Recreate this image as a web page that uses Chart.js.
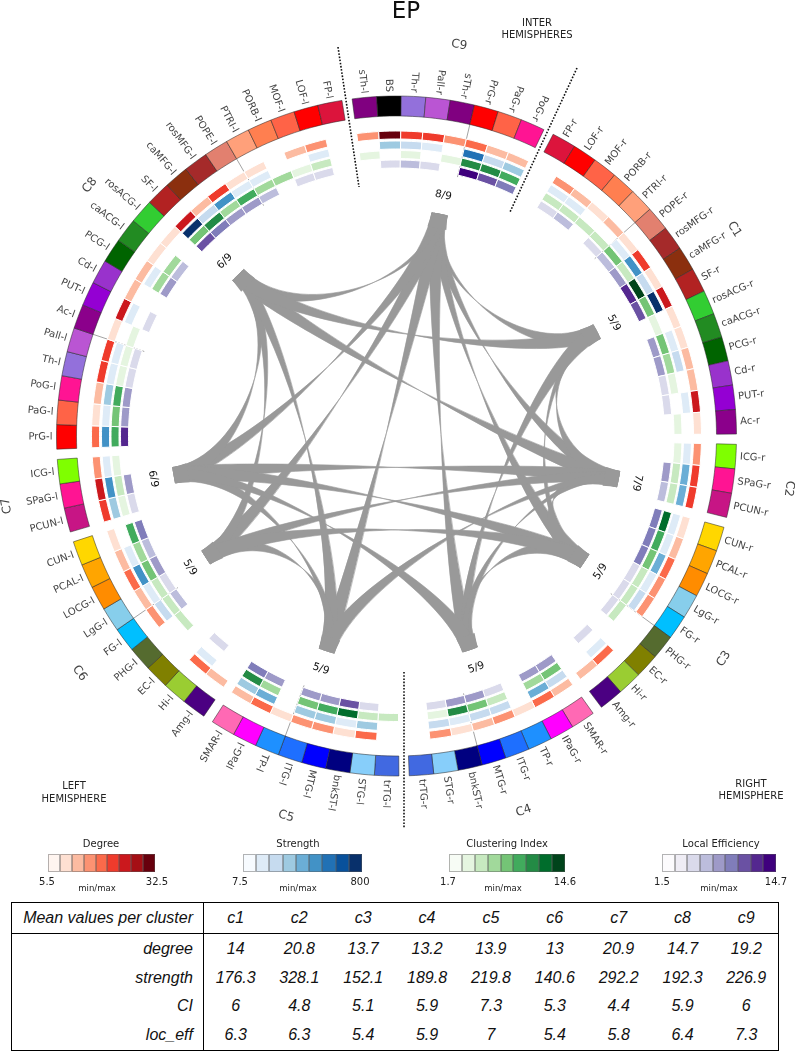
<!DOCTYPE html>
<html>
<head>
<meta charset="utf-8">
<title>EP</title>
<script src="https://cdn.jsdelivr.net/npm/chart.js@4"></script>
<style>
  body { margin: 0; background: #fff; width: 795px; height: 1052px; overflow: hidden; position: relative; font-family: "DejaVu Sans", sans-serif; color: #222; }
  canvas { position: absolute; left: -2px; top: 0; }
  .txt { position: absolute; transform: translate(-50%, -50%); white-space: nowrap; font-size: 10px; line-height: 12px; }
  .bar { position: absolute; display: flex; height: 18px; }
  .bar div { flex: 1; border: 0.5px solid rgba(90,90,90,0.45); box-sizing: border-box; }
  table { position: absolute; left: 11px; top: 902px; width: 768px; height: 149px; border-collapse: collapse; border: 1.5px solid #000; table-layout: fixed; font-family: "Liberation Sans", sans-serif; font-style: italic; font-size: 16px; color: #111; }
  th, td { font-weight: normal; text-align: center; padding: 0; }
  tr.head th { border-bottom: 1.5px solid #000; height: 30px; }
  th:first-child, td:first-child { width: 192px; text-align: right; padding-right: 10px; box-sizing: border-box; border-right: 1.5px solid #000; }
</style>
</head>
<body>
<canvas id="chart" width="797" height="872"></canvas>
<div id="extras"></div>
<script>
// clusters in drawing order, clockwise from the top
const clusterNames = ['C9', 'C1', 'C2', 'C3', 'C4', 'C5', 'C6', 'C7', 'C8'];
const hubAngles = [11, 62.5, 101, 123.6, 161, 198, 237.5, 260, 315.5];
const hubLabels = ['8/9', '5/9', '7/9', '5/9', '5/9', '5/9', '5/9', '6/9', '6/9'];

const nodeNames = [
  ['sTh-l', 'BS', 'Th-r', 'Pall-r', 'sTh-r', 'PrG-r', 'PaG-r', 'PoG-r'],
  ['FP-r', 'LOF-r', 'MOF-r', 'PORB-r', 'PTRI-r', 'POPE-r', 'rosMFG-r', 'caMFG-r', 'SF-r', 'rosACG-r', 'caACG-r', 'PCG-r', 'Cd-r', 'PUT-r', 'Ac-r'],
  ['ICG-r', 'SPaG-r', 'PCUN-r'],
  ['CUN-r', 'PCAL-r', 'LOCG-r', 'LgG-r', 'FG-r', 'PHG-r', 'EC-r', 'Hi-r', 'Amg-r'],
  ['SMAR-r', 'IPaG-r', 'TP-r', 'ITG-r', 'MTG-r', 'bnkST-r', 'STG-r', 'trTG-r'],
  ['trTG-l', 'STG-l', 'bnkST-l', 'MTG-l', 'ITG-l', 'TP-l', 'IPaG-l', 'SMAR-l'],
  ['Amg-l', 'Hi-l', 'EC-l', 'PHG-l', 'FG-l', 'LgG-l', 'LOCG-l', 'PCAL-l', 'CUN-l'],
  ['PCUN-l', 'SPaG-l', 'ICG-l'],
  ['PrG-l', 'PaG-l', 'PoG-l', 'Th-l', 'Pall-l', 'Ac-l', 'PUT-l', 'Cd-l', 'PCG-l', 'caACG-l', 'rosACG-l', 'SF-l', 'caMFG-l', 'rosMFG-l', 'POPE-l', 'PTRI-l', 'PORB-l', 'MOF-l', 'LOF-l', 'FP-l']
];

const nodeColors = [
  ['#800080', '#000000', '#9370db', '#ba55d3', '#800080', '#ff0000', '#ff6347', '#ff1493'],
  ['#dc143c', '#ff0000', '#ff6347', '#ff7f50', '#ffa07a', '#e2806f', '#a52a2a', '#8b2f0e', '#b22222', '#32cd32', '#228b22', '#006400', '#9932cc', '#9400d3', '#8b008b'],
  ['#7fff00', '#ff1493', '#c71585'],
  ['#ffd700', '#ffa500', '#ff8c00', '#87ceeb', '#00bfff', '#556b2f', '#808000', '#9acd32', '#4b0082'],
  ['#ff69b4', '#ff00ff', '#1e90ff', '#1e6fff', '#0000ff', '#000080', '#87cefa', '#4169e1'],
  ['#4169e1', '#87cefa', '#000080', '#0000ff', '#1e6fff', '#1e90ff', '#ff00ff', '#ff69b4'],
  ['#4b0082', '#9acd32', '#808000', '#556b2f', '#00bfff', '#87ceeb', '#ff8c00', '#ffa500', '#ffd700'],
  ['#c71585', '#ff1493', '#7fff00'],
  ['#ff0000', '#ff6347', '#ff1493', '#9370db', '#ba55d3', '#8b008b', '#9400d3', '#9932cc', '#006400', '#228b22', '#32cd32', '#b22222', '#8b2f0e', '#a52a2a', '#e2806f', '#ffa07a', '#ff7f50', '#ff6347', '#ff0000', '#dc143c']
];

// colour class per node, 0 means nothing drawn
const degreeLevels = [
  [3, 8, 5, 5, 3, 4, 2, 2],
  [0, 3, 2, 1, 2, 1, 5, 1, 6, 1, 1, 2, 2, 6, 1],
  [3, 5, 5],
  [1, 2, 4, 3, 3, 0, 0, 4, 2],
  [2, 4, 1, 3, 2, 1, 3, 0],
  [0, 4, 1, 3, 3, 1, 4, 2],
  [2, 4, 0, 0, 3, 2, 4, 2, 1],
  [5, 6, 3],
  [4, 1, 2, 5, 5, 1, 6, 2, 2, 1, 1, 6, 2, 5, 1, 1, 0, 2, 3, 0]
];
const strengthLevels = [
  [0, 3, 2, 1, 0, 6, 2, 3],
  [0, 1, 1, 0, 0, 1, 5, 2, 8, 0, 1, 2, 0, 1, 0],
  [1, 4, 4],
  [1, 1, 4, 1, 2, 0, 0, 1, 0],
  [2, 4, 0, 2, 2, 1, 2, 0],
  [0, 3, 1, 3, 3, 0, 4, 3],
  [0, 1, 0, 0, 2, 1, 5, 1, 0],
  [3, 5, 1],
  [5, 1, 3, 1, 1, 0, 1, 0, 1, 0, 0, 8, 2, 5, 1, 1, 0, 0, 1, 0]
];
const clusteringLevels = [
  [1, 0, 1, 0, 1, 6, 6, 5],
  [0, 2, 2, 2, 2, 4, 2, 8, 4, 1, 4, 3, 1, 0, 1],
  [1, 2, 2],
  [7, 5, 4, 2, 2, 2, 0, 0, 0],
  [4, 3, 0, 2, 4, 6, 1, 0],
  [2, 2, 7, 5, 4, 0, 3, 6],
  [0, 0, 0, 2, 2, 2, 4, 3, 5],
  [1, 2, 1],
  [5, 4, 5, 1, 1, 1, 0, 0, 3, 3, 0, 4, 6, 3, 5, 3, 3, 1, 2, 0]
];
const efficiencyLevels = [
  [0, 2, 3, 2, 0, 8, 6, 5],
  [0, 2, 3, 0, 2, 3, 4, 7, 6, 0, 4, 4, 2, 2, 0],
  [0, 4, 3],
  [5, 5, 5, 2, 2, 2, 0, 2, 0],
  [4, 4, 0, 2, 4, 4, 2, 0],
  [0, 2, 6, 4, 4, 0, 4, 5],
  [0, 2, 0, 0, 3, 2, 4, 3, 5],
  [2, 4, 0],
  [7, 4, 4, 2, 2, 0, 2, 0, 4, 3, 0, 6, 5, 4, 4, 3, 0, 2, 2, 0]
];

const reds = ['#fff5f0', '#fee0d2', '#fcbba1', '#fc9272', '#fb6a4a', '#ef3b2c', '#cb181d', '#a50f15', '#67000d'];
const blues = ['#f7fbff', '#deebf7', '#c6dbef', '#9ecae1', '#6baed6', '#4292c6', '#2171b5', '#08519c', '#08306b'];
const greens = ['#f7fcf5', '#e5f5e0', '#c7e9c0', '#a1d99b', '#74c476', '#41ab5d', '#238b45', '#006d2c', '#00441b'];
const purples = ['#fcfbfd', '#efedf5', '#dadaeb', '#bcbddc', '#9e9ac8', '#807dba', '#6a51a3', '#54278f', '#3f007d'];

// links between clusters, indexes into clusterNames, with how wide each end is
const linkFrom = [0, 0, 0, 0, 0, 0, 0, 0, 8, 8, 8, 8, 8, 1, 1, 1, 2, 2, 2, 2, 3, 7, 7, 7, 6, 6, 5];
const linkTo   = [1, 2, 3, 4, 5, 6, 7, 8, 7, 6, 5, 2, 1, 2, 3, 4, 3, 7, 6, 4, 4, 5, 3, 4, 5, 3, 2];
const linkWeightFrom = [0.4, 0.75, 0.75, 1, 1, 1, 1, 0.35, 0.6, 0.75, 0.75, 1, 1, 0.45, 0.5, 1, 1, 1, 0.75, 0.5, 1, 1, 1, 0.75, 1, 1, 1];
const linkWeightTo   = [1, 1, 1, 1, 1, 1, 1, 1, 1, 0.75, 1, 1, 1, 1, 0.6, 0.75, 1, 1, 0.75, 0.75, 0.4, 0.6, 1, 1, 0.5, 1, 0.6];

// [cluster, nodes before the tick]
const tickClusters = [0, 1, 3, 4, 5, 6, 8, 8];
const tickNodes = [5, 5, 5, 5, 5, 5, 5, 15];

const tableColumns = ['c1', 'c2', 'c3', 'c4', 'c5', 'c6', 'c7', 'c8', 'c9'];
const tableDegree = ['14', '20.8', '13.7', '13.2', '13.9', '13', '20.9', '14.7', '19.2'];
const tableStrength = ['176.3', '328.1', '152.1', '189.8', '219.8', '140.6', '292.2', '192.3', '226.9'];
const tableCI = ['6', '4.8', '5.1', '5.9', '7.3', '5.3', '4.4', '5.9', '6'];
const tableLocEff = ['6.3', '6.3', '5.4', '5.9', '7', '5.4', '5.8', '6.4', '7.3'];

const gapSize = 0.417;
const blank = 'rgba(0,0,0,0)';

// every ring shares the same slices: one per node plus a gap after each cluster
const sliceSizes = [];
const sliceIndex = [];
nodeNames.forEach((names, c) => {
  sliceIndex[c] = [];
  names.forEach((n, i) => {
    sliceIndex[c][i] = sliceSizes.length;
    sliceSizes.push(1);
  });
  sliceSizes.push(gapSize);
});

function withGaps(lists, gapValue) {
  const out = [];
  lists.forEach(list => {
    list.forEach(v => out.push(v));
    out.push(gapValue);
  });
  return out;
}

function heatRing(levels, palette, weight) {
  return {
    data: sliceSizes,
    weight: weight,
    backgroundColor: withGaps(levels, 0).map(l => l > 0 ? palette[l] : blank),
    borderColor: '#fff',
    borderWidth: withGaps(levels, 0).map(l => l > 0 ? 1 : 0)
  };
}

function spacer(weight) {
  return { data: sliceSizes, weight: weight, backgroundColor: blank, borderWidth: 0 };
}

const polar = (arc, deg, r) => {
  const a = (deg - 90) * Math.PI / 180;
  return { x: arc.x + r * Math.cos(a), y: arc.y + r * Math.sin(a) };
};

const circlePlugin = {
  id: 'circle',
  beforeDatasetsDraw(chart) {
    const ctx = chart.ctx;
    const meta = chart.getDatasetMeta(0);
    const first = meta.data[0];

    // ticks
    ctx.save();
    ctx.strokeStyle = '#8c8c8c';
    ctx.lineWidth = 0.8;
    tickClusters.forEach((c, i) => {
      const a = meta.data[sliceIndex[c][tickNodes[i]]].startAngle;
      ctx.beginPath();
      ctx.moveTo(first.x + 320 * Math.cos(a), first.y + 320 * Math.sin(a));
      ctx.lineTo(first.x + 266 * Math.cos(a), first.y + 266 * Math.sin(a));
      ctx.stroke();
    });
    ctx.restore();

    // ribbons, twisted so they pinch somewhere along the way
    const hubR = 226, ctrlR = 154, half = 2;
    ctx.save();
    ctx.fillStyle = '#999999';
    ctx.strokeStyle = '#999999';
    ctx.lineWidth = 0.6;
    linkFrom.forEach((f, i) => {
      const a = hubAngles[f], b = hubAngles[linkTo[i]];
      const ha = half * linkWeightFrom[i], hb = half * linkWeightTo[i];
      const a1 = polar(first, a - ha, hubR), a1c = polar(first, a - ha, ctrlR);
      const a2 = polar(first, a + ha, hubR), a2c = polar(first, a + ha, ctrlR);
      const b1 = polar(first, b - hb, hubR), b1c = polar(first, b - hb, ctrlR);
      const b2 = polar(first, b + hb, hubR), b2c = polar(first, b + hb, ctrlR);
      ctx.beginPath();
      ctx.moveTo(a1.x, a1.y);
      ctx.bezierCurveTo(a1c.x, a1c.y, b1c.x, b1c.y, b1.x, b1.y);
      ctx.lineTo(b2.x, b2.y);
      ctx.bezierCurveTo(b2c.x, b2c.y, a2c.x, a2c.y, a2.x, a2.y);
      ctx.closePath();
      ctx.fill();
      ctx.stroke();
    });
    // hub ends keep their full width
    hubAngles.forEach(h => {
      const p1 = polar(first, h - half, hubR), p2 = polar(first, h + half, hubR);
      const p3 = polar(first, h + half * 1.3, hubR - 14), p4 = polar(first, h - half * 1.3, hubR - 14);
      ctx.beginPath();
      ctx.moveTo(p1.x, p1.y);
      ctx.lineTo(p2.x, p2.y);
      ctx.lineTo(p3.x, p3.y);
      ctx.lineTo(p4.x, p4.y);
      ctx.closePath();
      ctx.fill();
    });
    ctx.restore();
  },
  afterDatasetsDraw(chart) {
    const ctx = chart.ctx;
    const meta = chart.getDatasetMeta(0);
    const first = meta.data[0];

    // node labels
    ctx.save();
    ctx.font = '10px "DejaVu Sans"';
    ctx.fillStyle = '#444';
    ctx.textBaseline = 'middle';
    nodeNames.forEach((names, c) => {
      names.forEach((name, i) => {
        const arc = meta.data[sliceIndex[c][i]];
        const a = (arc.startAngle + arc.endAngle) / 2;
        const deg = ((a * 180 / Math.PI + 90) % 360 + 360) % 360;
        const outward = deg > 25 && deg < 205;
        ctx.save();
        ctx.translate(first.x + 344 * Math.cos(a), first.y + 344 * Math.sin(a));
        ctx.rotate(outward ? a : a + Math.PI);
        ctx.textAlign = outward ? 'left' : 'right';
        ctx.fillText(name, 0, 0);
        ctx.restore();
      });
    });
    ctx.restore();

    // cluster names and hub labels follow the circle
    const tangentText = (text, deg, r, font, color) => {
      const p = polar(first, deg, r);
      const flip = deg > 110 && deg < 250;
      ctx.save();
      ctx.font = font;
      ctx.fillStyle = color;
      ctx.textAlign = 'center';
      ctx.textBaseline = 'middle';
      ctx.translate(p.x, p.y);
      ctx.rotate((flip ? deg - 180 : deg) * Math.PI / 180);
      ctx.fillText(text, 0, 0);
      ctx.restore();
    };
    clusterNames.forEach((name, c) => {
      const last = nodeNames[c].length - 1;
      const a = (meta.data[sliceIndex[c][0]].startAngle + meta.data[sliceIndex[c][last]].endAngle) / 2;
      const deg = ((a * 180 / Math.PI + 90) % 360 + 360) % 360;
      tangentText(name, deg, 396, '12px "DejaVu Sans"', '#444');
      tangentText(hubLabels[c], hubAngles[c], 245, '10.5px "DejaVu Sans"', '#111');
    });

    // hemisphere dividers, page coordinates
    const shift = first.x - 396.5;
    const dividers = [[338, 47, 359, 187], [577, 68, 510, 212], [404, 672, 404, 828]];
    ctx.save();
    ctx.strokeStyle = '#111';
    ctx.lineWidth = 1.6;
    ctx.setLineDash([1.6, 1.6]);
    dividers.forEach(d => {
      ctx.beginPath();
      ctx.moveTo(d[0] + shift, d[1]);
      ctx.lineTo(d[2] + shift, d[3]);
      ctx.stroke();
    });
    ctx.restore();
  }
};

new Chart(document.getElementById('chart').getContext('2d'), {
  type: 'doughnut',
  data: {
    labels: sliceSizes.map((s, i) => 'slice ' + i),
    datasets: [
      {
        data: sliceSizes,
        weight: 20,
        backgroundColor: withGaps(nodeColors, blank),
        borderColor: 'rgba(40,40,40,0.75)',
        borderWidth: withGaps(nodeColors, blank).map(c => c === blank ? 0 : 0.7)
      },
      spacer(15),
      heatRing(degreeLevels, reds, 8),
      spacer(2),
      heatRing(strengthLevels, blues, 8),
      spacer(1.5),
      heatRing(clusteringLevels, greens, 8),
      spacer(1.5),
      heatRing(efficiencyLevels, purples, 8)
    ]
  },
  options: {
    responsive: false,
    animation: false,
    events: [],
    rotation: -7.5,
    radius: 340,
    cutout: (268 / 340 * 100) + '%',
    plugins: { legend: { display: false }, tooltip: { enabled: false } }
  },
  plugins: [circlePlugin]
});

// page text, colour keys and table
const extras = document.getElementById('extras');
function addText(text, x, y, size, color) {
  const d = document.createElement('div');
  d.className = 'txt';
  d.textContent = text;
  d.style.left = x + 'px';
  d.style.top = y + 'px';
  if (size) d.style.fontSize = size + 'px';
  if (size) d.style.lineHeight = (size + 2) + 'px';
  if (color) d.style.color = color;
  extras.appendChild(d);
}
addText('EP', 406, 10, 23, '#111');
addText('INTER', 537, 23);
addText('HEMISPHERES', 537, 35);
addText('LEFT', 74, 786);
addText('HEMISPHERE', 74, 799);
addText('RIGHT', 751, 784);
addText('HEMISPHERE', 751, 796);

const keyTitles = ['Degree', 'Strength', 'Clustering Index', 'Local Efficiency'];
const keyPalettes = [reds, blues, greens, purples];
const keyLeft = [48, 243, 449, 662];
const keyRight = [155, 362, 565, 776];
const keyTitleX = [101, 298, 507, 721];
const keyMin = ['5.5', '7.5', '1.7', '1.5'];
const keyMax = ['32.5', '800', '14.6', '14.7'];
const keyMinX = [47, 240, 448, 662];
const keyMaxX = [157, 360, 565, 776];
const keyNoteX = [97, 298, 503, 719];
keyTitles.forEach((t, i) => {
  addText(t, keyTitleX[i], 844);
  const bar = document.createElement('div');
  bar.className = 'bar';
  bar.style.left = keyLeft[i] + 'px';
  bar.style.top = '854px';
  bar.style.width = (keyRight[i] - keyLeft[i]) + 'px';
  keyPalettes[i].forEach(c => {
    const cell = document.createElement('div');
    cell.style.background = c;
    bar.appendChild(cell);
  });
  extras.appendChild(bar);
  addText(keyMin[i], keyMinX[i], 882);
  addText(keyMax[i], keyMaxX[i], 882);
  addText('min/max', keyNoteX[i], 888, 8.5);
});

const table = document.createElement('table');
const rows = [['degree', tableDegree], ['strength', tableStrength], ['CI', tableCI], ['loc_eff', tableLocEff]];
let html = '<tr class="head"><th>Mean values per cluster</th>' + tableColumns.map(c => `<th>${c}</th>`).join('') + '</tr>';
rows.forEach(r => {
  html += `<tr><td>${r[0]}</td>` + r[1].map(v => `<td>${v}</td>`).join('') + '</tr>';
});
table.innerHTML = html;
extras.appendChild(table);
</script>
</body>
</html>
